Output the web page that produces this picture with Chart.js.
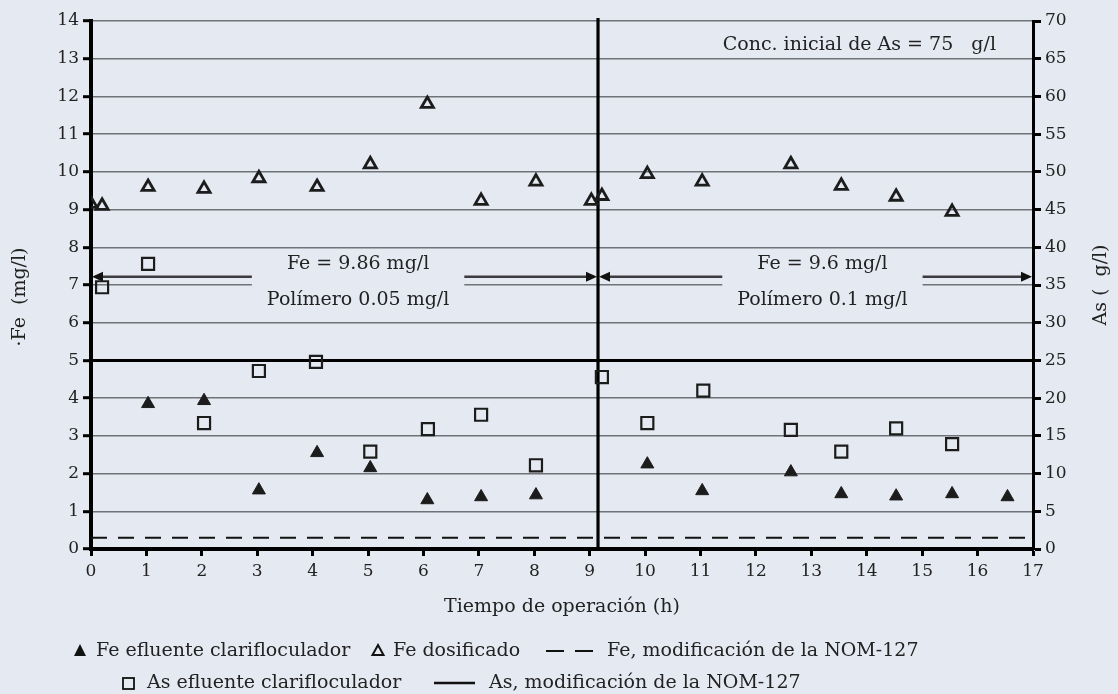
<!DOCTYPE html>
<html>
<head>
<meta charset="utf-8">
<script src="https://cdn.jsdelivr.net/npm/chart.js@4"></script>
<style>
  html, body { margin: 0; padding: 0; background: #e5e9f1; }
  #wrap { width: 1118px; height: 694px; }
</style>
</head>
<body>
<div id="wrap"><canvas id="chart"></canvas></div>
<script>
// hours of the samples
var feEffHours = [1.03, 2.04, 3.03, 4.08, 5.04, 6.07, 7.04, 8.03, 10.04, 11.03, 12.63, 13.54, 14.53, 15.54, 16.54];
var feEffValues = [3.85, 3.93, 1.56, 2.55, 2.15, 1.3, 1.38, 1.43, 2.25, 1.54, 2.04, 1.46, 1.4, 1.46, 1.38];

var feDosHours = [0, 0.2, 1.03, 2.04, 3.03, 4.08, 5.04, 6.07, 7.04, 8.03, 9.03, 9.22, 10.04, 11.03, 12.63, 13.54, 14.53, 15.54];
var feDosValues = [9.15, 9.1, 9.6, 9.55, 9.83, 9.6, 10.2, 11.8, 9.23, 9.74, 9.23, 9.36, 9.94, 9.74, 10.2, 9.63, 9.34, 8.94];

var asEffHours = [0.2, 1.03, 2.04, 3.03, 4.06, 5.04, 6.08, 7.04, 8.03, 9.22, 10.04, 11.05, 12.63, 13.54, 14.53, 15.54];
var asEffValues = [34.7, 37.8, 16.7, 23.6, 24.8, 12.9, 15.9, 17.8, 11.1, 22.8, 16.7, 21, 15.8, 12.9, 16, 13.9];

var feNom = 0.3;   // mg/l
var asNom = 25;    // ug/l
var splitHour = 9.15;
var periods = [
  { from: 0, to: splitHour, center: 4.82, line1: 'Fe = 9.86 mg/l', line2: 'Polímero 0.05 mg/l' },
  { from: splitHour, to: 17, center: 13.2, line1: 'Fe = 9.6 mg/l', line2: 'Polímero 0.1 mg/l' }
];

var serif = "'DejaVu Serif', 'Liberation Serif', serif";
var bg = '#e5e9f1';
var ink = '#222222';

function pts(xs, ys) {
  return xs.map(function (h, i) { return { x: h, y: ys[i] }; });
}

function arrowHead(ctx, x, y, dir) {
  ctx.beginPath();
  ctx.moveTo(x, y);
  ctx.lineTo(x - dir * 11, y - 5);
  ctx.lineTo(x - dir * 11, y + 5);
  ctx.closePath();
  ctx.fill();
}

var overlay = {
  id: 'overlay',
  beforeDatasetsDraw: function (chart) {
    var ctx = chart.ctx, a = chart.chartArea, sx = chart.scales.x, sy = chart.scales.y;
    ctx.save();
    // period annotations
    ctx.font = '19px ' + serif;
    ctx.textAlign = 'center';
    ctx.textBaseline = 'middle';
    periods.forEach(function (p) {
      var cx = sx.getPixelForValue(p.center);
      var w = Math.max(ctx.measureText(p.line1).width, ctx.measureText(p.line2).width) + 30;
      var yTop = sy.getPixelForValue(7.55), yBot = sy.getPixelForValue(6.6);
      ctx.fillStyle = bg;
      ctx.fillRect(cx - w / 2, yTop - 12, w, yBot - yTop + 24);
      var ya = sy.getPixelForValue(7.22);
      var x0 = sx.getPixelForValue(p.from), x1 = sx.getPixelForValue(p.to);
      ctx.strokeStyle = '#3c3c40';
      ctx.lineWidth = 2.5;
      ctx.beginPath();
      ctx.moveTo(x0 + 4, ya); ctx.lineTo(cx - w / 2, ya);
      ctx.moveTo(cx + w / 2, ya); ctx.lineTo(x1 - 4, ya);
      ctx.stroke();
      ctx.fillStyle = '#111';
      arrowHead(ctx, x0 + 1, ya, -1);
      arrowHead(ctx, x1 - 1, ya, 1);
      ctx.fillStyle = ink;
      ctx.fillText(p.line1, cx, yTop);
      ctx.fillText(p.line2, cx, yBot);
    });
    // split between the two polymer doses
    var xs = sx.getPixelForValue(splitHour);
    ctx.strokeStyle = '#000';
    ctx.lineWidth = 3.2;
    ctx.beginPath();
    ctx.moveTo(xs, a.top - 3);
    ctx.lineTo(xs, a.bottom);
    ctx.stroke();
    ctx.restore();
  },
  afterDraw: function (chart) {
    var ctx = chart.ctx, a = chart.chartArea;
    ctx.save();
    ctx.fillStyle = ink;
    ctx.font = '19px ' + serif;
    ctx.textBaseline = 'middle';
    ctx.textAlign = 'right';
    ctx.fillText('Conc. inicial de As = 75   g/l', a.right - 37, 45);

    // axis titles
    ctx.textAlign = 'center';
    ctx.fillText('Tiempo de operación (h)', (a.left + a.right) / 2, 607);
    ctx.save();
    ctx.translate(20, (a.top + a.bottom) / 2 + 12);
    ctx.rotate(-Math.PI / 2);
    ctx.fillText('·Fe  (mg/l)', 0, 0);
    ctx.restore();
    ctx.save();
    ctx.translate(1101, 285);
    ctx.rotate(-Math.PI / 2);
    ctx.fillText('As (  g/l)', 0, 0);
    ctx.restore();

    // legend
    ctx.textAlign = 'left';
    ctx.font = '19px ' + serif;
    var r1 = 651, r2 = 683;
    // filled triangle
    ctx.fillStyle = '#111';
    ctx.beginPath();
    ctx.moveTo(80, r1 - 7); ctx.lineTo(86, r1 + 5); ctx.lineTo(74, r1 + 5); ctx.closePath(); ctx.fill();
    ctx.fillStyle = ink;
    ctx.fillText('Fe efluente clarifloculador', 96, r1);
    // open triangle
    ctx.strokeStyle = '#111'; ctx.lineWidth = 2;
    ctx.beginPath();
    ctx.moveTo(378, r1 - 6); ctx.lineTo(383.5, r1 + 4); ctx.lineTo(372.5, r1 + 4); ctx.closePath(); ctx.stroke();
    ctx.fillText('Fe dosificado', 393, r1);
    // dashed line
    ctx.lineWidth = 2;
    ctx.beginPath();
    ctx.moveTo(546, r1); ctx.lineTo(564, r1);
    ctx.moveTo(575, r1); ctx.lineTo(593, r1);
    ctx.stroke();
    ctx.fillText('Fe, modificación de la NOM-127', 607, r1);
    // square
    ctx.lineWidth = 1.8;
    ctx.strokeRect(123, r2 - 5, 11, 11);
    ctx.fillText('As efluente clarifloculador', 147, r2);
    ctx.lineWidth = 2.5;
    ctx.beginPath();
    ctx.moveTo(434, r2); ctx.lineTo(475, r2);
    ctx.stroke();
    ctx.fillText('As, modificación de la NOM-127', 489, r2);
    ctx.restore();
  }
};

var tickFont = { family: serif, size: 17 };

new Chart(document.getElementById('chart'), {
  type: 'scatter',
  data: {
    datasets: [
      {
        label: 'Fe efluente clarifloculador',
        data: pts(feEffHours, feEffValues),
        pointStyle: 'triangle',
        pointRadius: 7.5,
        backgroundColor: '#1c1c1c',
        borderColor: '#1c1c1c',
        borderWidth: 1,
        yAxisID: 'y'
      },
      {
        label: 'Fe dosificado',
        data: pts(feDosHours, feDosValues),
        pointStyle: 'triangle',
        pointRadius: 7,
        backgroundColor: 'rgba(0,0,0,0)',
        borderColor: '#1c1c1c',
        borderWidth: 2.8,
        yAxisID: 'y'
      },
      {
        label: 'As efluente clarifloculador',
        data: pts(asEffHours, asEffValues),
        pointStyle: 'rect',
        pointRadius: 8.5,
        backgroundColor: 'rgba(0,0,0,0)',
        borderColor: '#1c1c1c',
        borderWidth: 2.2,
        yAxisID: 'y2'
      },
      {
        type: 'line',
        label: 'Fe, modificación de la NOM-127',
        data: [{ x: 0, y: feNom }, { x: 17, y: feNom }],
        borderColor: '#111',
        borderWidth: 2,
        borderDash: [16, 11],
        pointRadius: 0,
        yAxisID: 'y'
      },
      {
        type: 'line',
        label: 'As, modificación de la NOM-127',
        data: [{ x: 0, y: asNom }, { x: 17, y: asNom }],
        borderColor: '#000',
        borderWidth: 3,
        pointRadius: 0,
        yAxisID: 'y2'
      }
    ]
  },
  options: {
    responsive: true,
    maintainAspectRatio: false,
    animation: false,
    layout: { padding: { top: 21, left: 0, right: 0, bottom: 0 } },
    plugins: { legend: { display: false }, tooltip: { enabled: false } },
    scales: {
      x: {
        type: 'linear',
        min: 0, max: 17,
        border: { color: '#000', width: 4 },
        grid: { drawOnChartArea: false, drawTicks: true, tickLength: 7, tickColor: '#000', tickWidth: 3 },
        ticks: { stepSize: 1, color: ink, font: tickFont, padding: 5, maxRotation: 0 },
        afterFit: function (s) { s.height = 145; }
      },
      y: {
        position: 'left',
        min: 0, max: 14,
        border: { color: '#000', width: 4 },
        grid: { color: '#6f7278', lineWidth: 1.4, tickLength: 8, tickColor: '#000', tickWidth: 3 },
        ticks: { stepSize: 1, color: ink, font: tickFont, padding: 4 },
        afterFit: function (s) { s.width = 91; }
      },
      y2: {
        position: 'right',
        min: 0, max: 70,
        border: { color: '#000', width: 3 },
        grid: { drawOnChartArea: false, tickLength: 8, tickColor: '#000', tickWidth: 3 },
        ticks: { stepSize: 5, color: ink, font: tickFont, padding: 4 },
        afterFit: function (s) { s.width = 85; }
      }
    }
  },
  plugins: [overlay]
});
</script>
</body>
</html>
